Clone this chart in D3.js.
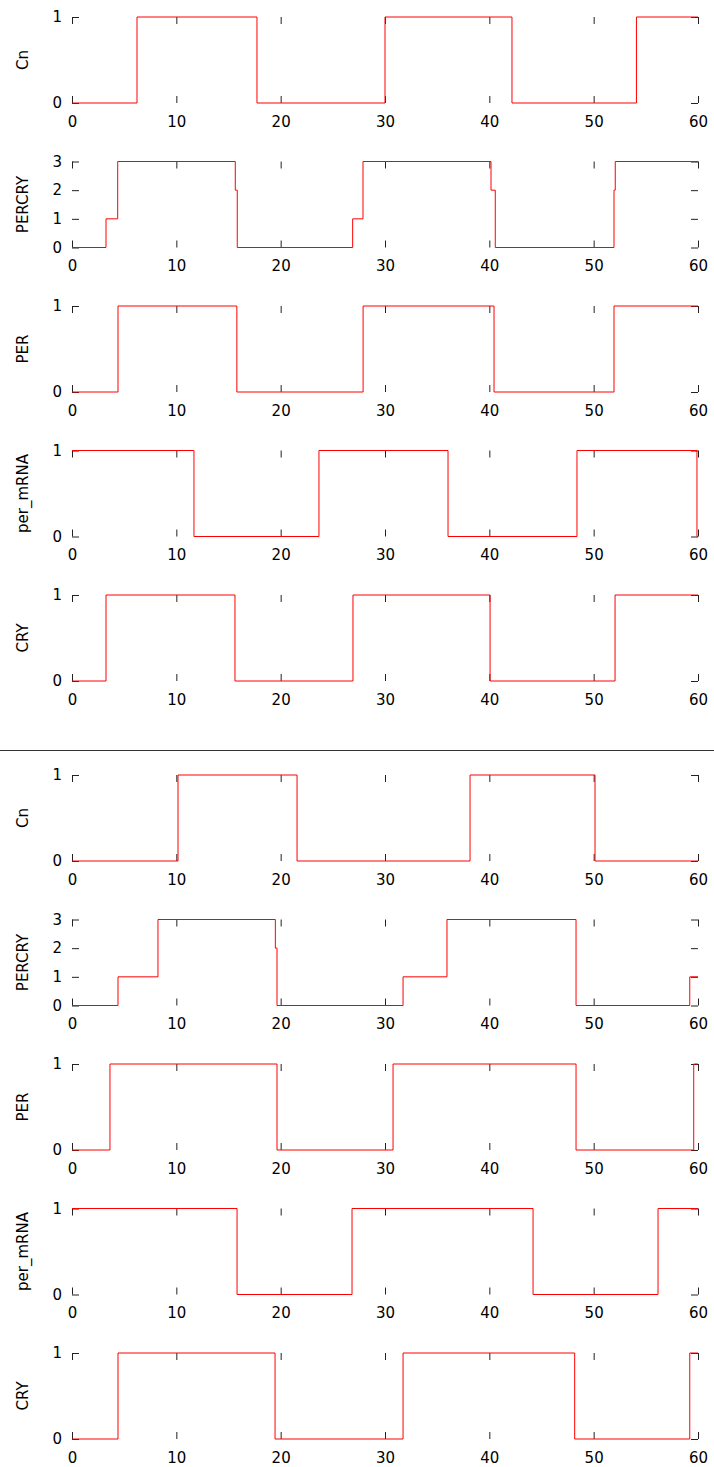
<!DOCTYPE html>
<html>
<head>
<meta charset="utf-8">
<script src="https://cdn.jsdelivr.net/npm/d3@7"></script>
<style>
  body { margin: 0; background: #fff; }
  text { font-family: "DejaVu Sans", sans-serif; font-size: 15px; fill: #000; }
</style>
</head>
<body>
<div id="chart"></div>
<script>
// x axis
var tMax = 60;
var xTicks = [0, 10, 20, 30, 40, 50, 60];

// run 1 : step times (where value changes) and values
var cn1_t     = [0, 6.23, 17.73, 30.0, 42.17, 54.1];
var cn1_v     = [0, 1, 0, 1, 0, 1];
var percry1_t = [0, 3.26, 4.38, 15.65, 15.84, 26.9, 27.89, 40.16, 40.57, 51.95, 52.07];
var percry1_v = [0, 1, 3, 2, 0, 1, 3, 2, 0, 2, 3];
var per1_t    = [0, 4.41, 15.8, 27.9, 40.45, 51.95];
var per1_v    = [0, 1, 0, 1, 0, 1];
var mrna1_t   = [0, 11.69, 23.67, 36.04, 48.4, 59.9];
var mrna1_v   = [1, 0, 1, 0, 1, 0];
var cry1_t    = [0, 3.26, 15.62, 26.93, 40.07, 52.05];
var cry1_v    = [0, 1, 0, 1, 0, 1];

// run 2
var cn2_t     = [0, 10.16, 21.57, 38.15, 50.13];
var cn2_v     = [0, 1, 0, 1, 0];
var percry2_t = [0, 4.41, 8.24, 19.49, 19.65, 31.73, 35.94, 48.31, 59.21];
var percry2_v = [0, 1, 3, 2, 0, 1, 3, 0, 1];
var per2_t    = [0, 3.64, 19.65, 30.77, 48.31, 59.59];
var per2_v    = [0, 1, 0, 1, 0, 1];
var mrna2_t   = [0, 15.82, 26.84, 44.19, 56.17];
var mrna2_v   = [1, 0, 1, 0, 1];
var cry2_t    = [0, 4.41, 19.46, 31.73, 48.18, 59.21];
var cry2_v    = [0, 1, 0, 1, 0, 1];

var ticks01 = [0, 1];
var ticks03 = [0, 1, 2, 3];

var run1 = [
    { name: "Cn",       t: cn1_t,     v: cn1_v,     yTicks: ticks01 },
    { name: "PERCRY",   t: percry1_t, v: percry1_v, yTicks: ticks03 },
    { name: "PER",      t: per1_t,    v: per1_v,    yTicks: ticks01 },
    { name: "per_mRNA", t: mrna1_t,   v: mrna1_v,   yTicks: ticks01 },
    { name: "CRY",      t: cry1_t,    v: cry1_v,    yTicks: ticks01 }
];
var run2 = [
    { name: "Cn",       t: cn2_t,     v: cn2_v,     yTicks: ticks01 },
    { name: "PERCRY",   t: percry2_t, v: percry2_v, yTicks: ticks03 },
    { name: "PER",      t: per2_t,    v: per2_v,    yTicks: ticks01 },
    { name: "per_mRNA", t: mrna2_t,   v: mrna2_v,   yTicks: ticks01 },
    { name: "CRY",      t: cry2_t,    v: cry2_v,    yTicks: ticks01 }
];

// SVG settings
var width = 714;
var height = 1467;
var svg = d3.select("#chart").append("svg").attr("width", width).attr("height", height);

var xScale = d3.scaleLinear().domain([0, tMax]).range([72, 698]);
var panelH = 86;
var pitch = 144.5;
var tick = 7;

function drawPanel(p, top) {
    var ymax = d3.max(p.yTicks);
    var yScale = d3.scaleLinear().domain([0, ymax]).range([top + panelH, top]);
    var g = svg.append("g").style("color", "#222");

    // x axis bottom with labels, top mirror
    g.append("g")
        .attr("transform", "translate(0," + (top + panelH) + ")")
        .call(d3.axisBottom(xScale).tickValues(xTicks).tickSize(-tick).tickPadding(13))
        .call(function(s) { s.select(".domain").remove(); });
    g.append("g")
        .attr("transform", "translate(0," + top + ")")
        .call(d3.axisTop(xScale).tickValues(xTicks).tickSize(-tick).tickFormat(""))
        .call(function(s) { s.select(".domain").remove(); });

    // y axis left with labels, right mirror
    g.append("g")
        .attr("transform", "translate(" + xScale(0) + ",0)")
        .call(d3.axisLeft(yScale).tickValues(p.yTicks).tickSize(-tick).tickPadding(10).tickFormat(d3.format("d")))
        .call(function(s) { s.select(".domain").remove(); });
    g.append("g")
        .attr("transform", "translate(" + xScale(tMax) + ",0)")
        .call(d3.axisRight(yScale).tickValues(p.yTicks).tickSize(-tick).tickFormat(""))
        .call(function(s) { s.select(".domain").remove(); });

    // y label
    g.append("text")
        .attr("transform", "translate(28," + (top + panelH / 2) + ") rotate(-90)")
        .attr("text-anchor", "middle")
        .text(p.name);

    // step line
    var pts = p.t.map(function(d, i) { return [d, p.v[i]]; });
    pts.push([tMax, p.v[p.v.length - 1]]);
    g.append("path")
        .datum(pts)
        .attr("fill", "none")
        .attr("stroke", "#ff0000")
        .attr("stroke-width", 1)
        .attr("d", d3.line()
            .x(function(d) { return xScale(d[0]); })
            .y(function(d) { return yScale(d[1]); })
            .curve(d3.curveStepAfter));
}

run1.forEach(function(p, i) { drawPanel(p, 17 + i * pitch); });
run2.forEach(function(p, i) { drawPanel(p, 775 + i * pitch); });

// separator
svg.append("line")
    .attr("x1", 0).attr("x2", width)
    .attr("y1", 750.5).attr("y2", 750.5)
    .attr("stroke", "#333")
    .attr("stroke-width", 1);
</script>
</body>
</html>
